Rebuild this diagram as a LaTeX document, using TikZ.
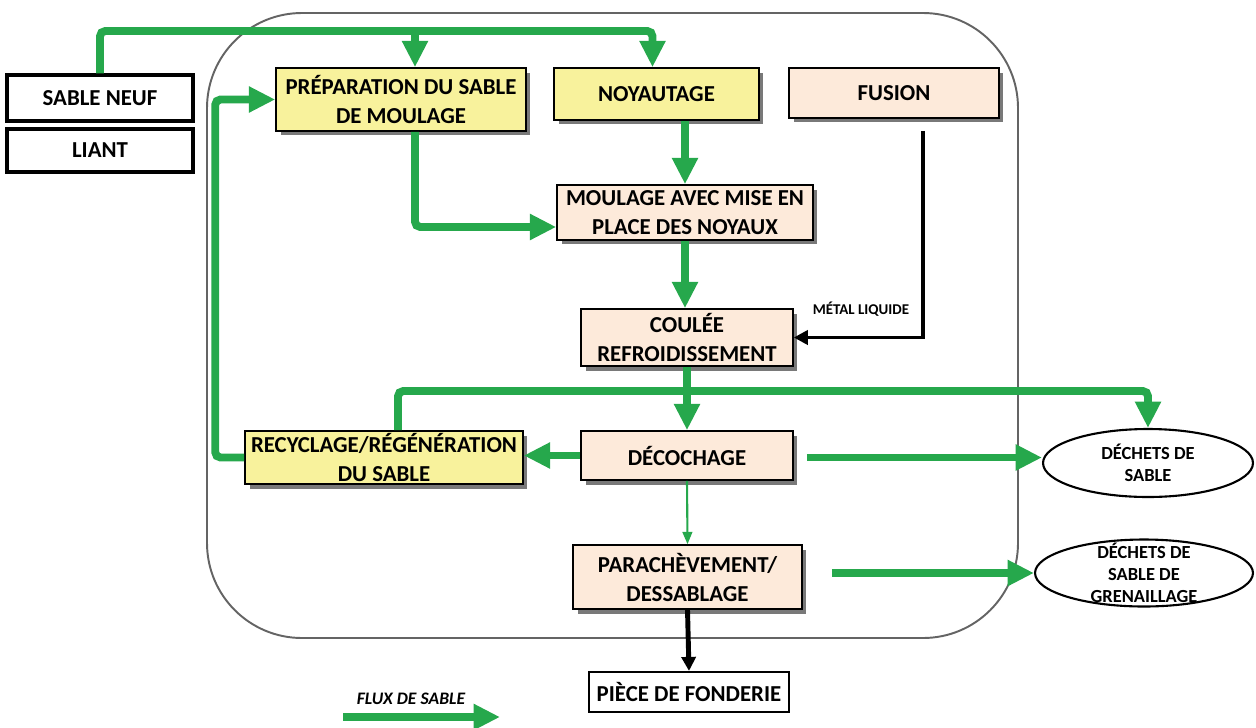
\documentclass[tikz,border=0pt]{standalone}
\usepackage{fontspec}
\setmainfont{Carlito}
\usetikzlibrary{shapes.geometric,arrows.meta,positioning,calc,shadows}
\definecolor{flowgreen}{RGB}{38,168,76}
\definecolor{boxyellow}{RGB}{248,242,156}
\definecolor{boxpeach}{RGB}{253,234,218}
\definecolor{framegrey}{RGB}{100,100,100}

\begin{document}
\begin{tikzpicture}[x=0.02cm, y=-0.02cm,
    font=\bfseries\fontsize{13}{16.5}\selectfont,
    stepbase/.style={draw=black, line width=0.9pt, align=center, inner sep=0pt,
                     drop shadow={shadow xshift=0.09cm, shadow yshift=-0.09cm, fill=black!70, opacity=0.75}},
    sandbox/.style={stepbase, fill=boxyellow},
    castbox/.style={stepbase, fill=boxpeach},
    inbox/.style={draw=black, line width=1.8pt, fill=white, align=center, inner sep=0pt},
    waste/.style={ellipse, draw=black, line width=1.2pt, fill=white, align=center, inner sep=0pt,
                  font=\bfseries\fontsize{10.5}{12.5}\selectfont},
    flow/.style={-{Triangle[length=15pt, width=14pt]}, flowgreen, line width=4.5pt, rounded corners=3pt},
    thinflow/.style={-{Triangle[length=7pt, width=5.5pt]}, flowgreen, line width=1.2pt},
    metal/.style={-{Triangle[length=8pt, width=8pt]}, black, line width=2.2pt}]

    \useasboundingbox (0,0) rectangle (1256,727);

    % enceinte de la fonderie
    \draw[framegrey, line width=1.1pt, rounded corners=1.9cm] (207,13) rectangle (1018,638);

    \node[inbox, minimum width=3.72cm, minimum height=0.92cm] (sable) at (100,98) {SABLE NEUF};
    \node[inbox, minimum width=3.72cm, minimum height=0.86cm] (liant) at (100,150.5) {LIANT};

    \node[sandbox, minimum width=5cm, minimum height=1.26cm] (prep) at (401,99.5) {PRÉPARATION DU SABLE\\DE MOULAGE};
    \node[sandbox, minimum width=4.1cm, minimum height=1.04cm] (noyau) at (656.5,94) {NOYAUTAGE};
    \node[castbox, minimum width=4.2cm, minimum height=1cm] (fusion) at (894,93) {FUSION};
    \node[castbox, minimum width=5.12cm, minimum height=1.1cm] (moul) at (685,212.5) {MOULAGE AVEC MISE EN\\PLACE DES NOYAUX};
    \node[castbox, minimum width=4.24cm, minimum height=1.14cm] (coul) at (687,337.5) {COULÉE\\REFROIDISSEMENT};
    \node[sandbox, minimum width=5.56cm, minimum height=1.06cm] (recy) at (384,457.5) {RECYCLAGE/RÉGÉNÉRATION\\DU SABLE};
    \node[castbox, minimum width=4.24cm, minimum height=0.98cm] (deco) at (687,455.5) {DÉCOCHAGE};
    \node[castbox, minimum width=4.58cm, minimum height=1.28cm] (para) at (687.5,577) {PARACHÈVEMENT/\\DESSABLAGE};
    \node[inbox, line width=1.2pt, minimum width=4cm, minimum height=0.8cm] (piece) at (689,692) {PIÈCE DE FONDERIE};

    \node[waste, minimum width=4.2cm, minimum height=1.36cm] (dsable) at (1148,463) {DÉCHETS DE\\SABLE};
    \node[waste, inner ysep=-6pt, minimum width=4.36cm, minimum height=1.34cm] (dgren) at (1144,573) {DÉCHETS DE\\SABLE DE\\GRENAILLAGE};

    \coordinate (ytop) at (0,31);
    \coordinate (ymid) at (0,391);

    % flux de sable
    \draw[flow] (sable.north) |- ($(ytop -| noyau.north)+(-4,0)$) -- ($(noyau.north)+(-4,0)$);
    \draw[flow] ($(ytop -| prep.north)+(14,0)$) -- ($(prep.north)+(14,0)$);
    \draw[flow] (recy.west) -- ++(-29,0) |- (prep.west);
    \draw[flow] ($(prep.south)+(14,0)$) |- ($(moul.west)+(0,14.5)$);
    \draw[flow] (noyau.south -| moul.north) -- (moul.north);
    \draw[flow] (moul.south) -- (moul.south |- coul.north);
    \draw[flow] (coul.south) -- (coul.south |- deco.north);
    \draw[flow] ($(recy.north)+(14,0)$) |- (ymid -| dsable.north) -- (dsable.north);
    \draw[flow] (deco.west) -- (deco.west -| recy.east);
    \draw[flow] ($(deco.east)+(13,2)$) -- ($(deco.east -| dsable.west)+(0,2)$);
    \draw[thinflow] (deco.south) -- (para.north);
    \draw[flow] ($(para.east)+(29,-4)$) -- (dgren.west);

    % metal
    \draw[metal] ($(fusion.south)+(29,12)$) |- (coul.east);
    \node[font=\bfseries\fontsize{8.5}{10}\selectfont] (metlbl) at (861,309) {MÉTAL LIQUIDE};
    \draw[metal, line width=2.8pt] (para.south) -- (piece.north);

    % legende
    \node[font=\bfseries\itshape\fontsize{10}{12}\selectfont] (fluxlbl) at (411,699) {FLUX DE SABLE};
    \coordinate (lgA) at (343,717);
    \coordinate (lgB) at (500,717);
    \draw[flow] (lgA) -- (lgB);
\end{tikzpicture}
\end{document}
